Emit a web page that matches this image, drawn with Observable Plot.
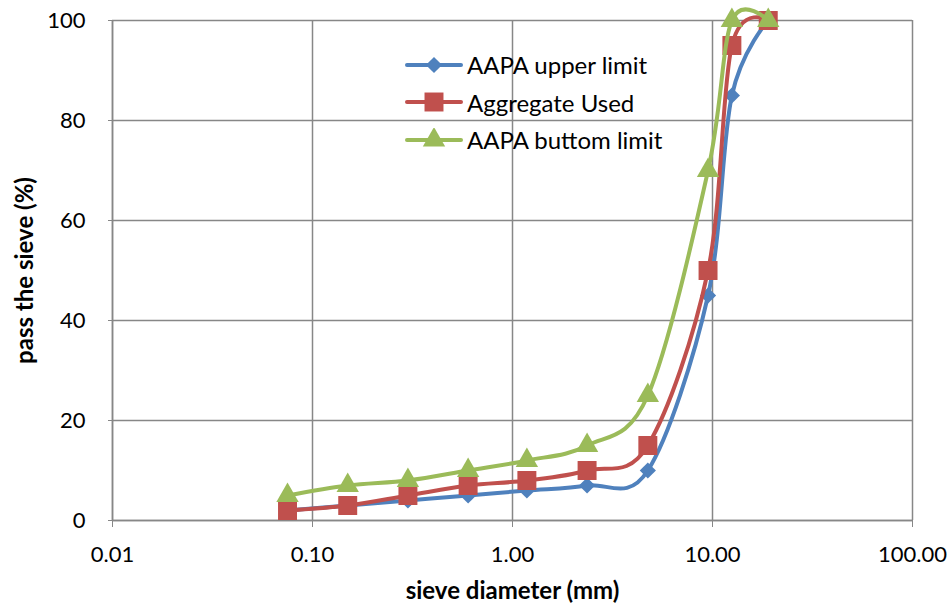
<!DOCTYPE html>
<html>
<head>
<meta charset="utf-8">
<script src="https://cdn.jsdelivr.net/npm/d3@7"></script>
<script src="https://cdn.jsdelivr.net/npm/@observablehq/plot@0.6"></script>
<style>
  html, body { margin: 0; padding: 0; background: #fff; }
  #wrap { position: relative; width: 952px; height: 607px; font-family: Lato, "Open Sans", sans-serif; }
  #legend { position: absolute; left: 405px; top: 46px; }
  .lrow { display: flex; align-items: center; height: 37.5px; font-size: 24px; color: #000; }
  .lrow svg { margin-right: 4px; }
</style>
</head>
<body>
<div id="wrap"></div>
<script>
const sieve = [0.075, 0.15, 0.3, 0.6, 1.18, 2.36, 4.75, 9.5, 12.5, 19];
const upper = [2, 3, 4, 5, 6, 7, 10, 45, 85, 100];
const used = [2, 3, 5, 7, 8, 10, 15, 50, 95, 100];
const bottom = [5, 7, 8, 10, 12, 15, 25, 70, 100, 100];
const seriesNames = ["AAPA upper limit", "Aggregate Used", "AAPA buttom limit"];
const seriesColors = ["#4F81BD", "#C0504D", "#9BBB59"];
const seriesSymbols = ["diamond2", "square", "triangle"];
const xTicks = [0.01, 0.1, 1, 10, 100];
const yTicks = [0, 20, 40, 60, 80, 100];
const xTitle = "sieve diameter (mm)";
const yTitle = "pass the sieve (%)";

const seriesValues = [upper, used, bottom];
const symR = { diamond2: 7.3, square: 10.7, triangle: 8.3 };
const grid = "#878787";

const seriesMarks = seriesValues.flatMap((vals, i) => {
  const data = sieve.map((s, j) => ({ x: s, y: vals[j] }));
  return [
    Plot.line(data, { x: "x", y: "y", stroke: seriesColors[i], strokeWidth: 4, curve: "cardinal" }),
    Plot.dot(data, { x: "x", y: "y", fill: seriesColors[i], stroke: "none", symbol: () => seriesSymbols[i], r: symR[seriesSymbols[i]] })
  ];
});

const chart = Plot.plot({
  width: 952,
  height: 607,
  marginLeft: 112,
  marginRight: 40,
  marginTop: 20,
  marginBottom: 87,
  style: { fontFamily: "Lato, 'Open Sans', sans-serif", fontSize: "22px", color: "#000", background: "#fff" },
  x: { type: "log", domain: [0.01, 100] },
  y: { domain: [0, 100] },
  symbol: { type: "identity" },
  marks: [
    Plot.gridX(xTicks, { stroke: grid, strokeOpacity: 1, strokeWidth: 1.5 }),
    Plot.gridY(yTicks, { stroke: grid, strokeOpacity: 1, strokeWidth: 1.5 }),
    Plot.ruleX([0.01], { stroke: grid, strokeWidth: 1.5 }),
    Plot.ruleY([0], { stroke: grid, strokeWidth: 1.5 }),
    Plot.axisX(xTicks, { tickFormat: d => d.toFixed(2), tickSize: 7, tickPadding: 19, stroke: grid, fill: "#000", label: null, fontSize: 22 }),
    Plot.axisY(yTicks, { tickSize: 4, tickPadding: 23, stroke: grid, fill: "#000", label: null, fontSize: 22 }),
    Plot.text([xTitle], { frameAnchor: "bottom", lineAnchor: "middle", textAnchor: "middle", dy: 71, fontWeight: "bold", fontSize: 24, fill: "#000" }),
    Plot.text([yTitle], { frameAnchor: "left", lineAnchor: "middle", textAnchor: "middle", dx: -87, rotate: -90, fontWeight: "bold", fontSize: 24, fill: "#000" }),
    ...seriesMarks
  ]
});

const wrap = document.getElementById("wrap");
wrap.appendChild(chart);

const legend = document.createElement("div");
legend.id = "legend";
seriesNames.forEach((name, i) => {
  const row = document.createElement("div");
  row.className = "lrow";
  const sym = seriesSymbols[i];
  const path = d3.symbol(sym === "diamond2" ? d3.symbolDiamond2 : sym === "square" ? d3.symbolSquare : d3.symbolTriangle, Math.PI * symR[sym] ** 2)();
  row.innerHTML = `<svg width="58" height="24"><line x1="2" x2="56" y1="12" y2="12" stroke="${seriesColors[i]}" stroke-width="4" stroke-linecap="round"/><path d="${path}" transform="translate(29,12)" fill="${seriesColors[i]}"/></svg><span>${name}</span>`;
  legend.appendChild(row);
});
wrap.appendChild(legend);
</script>
</body>
</html>
